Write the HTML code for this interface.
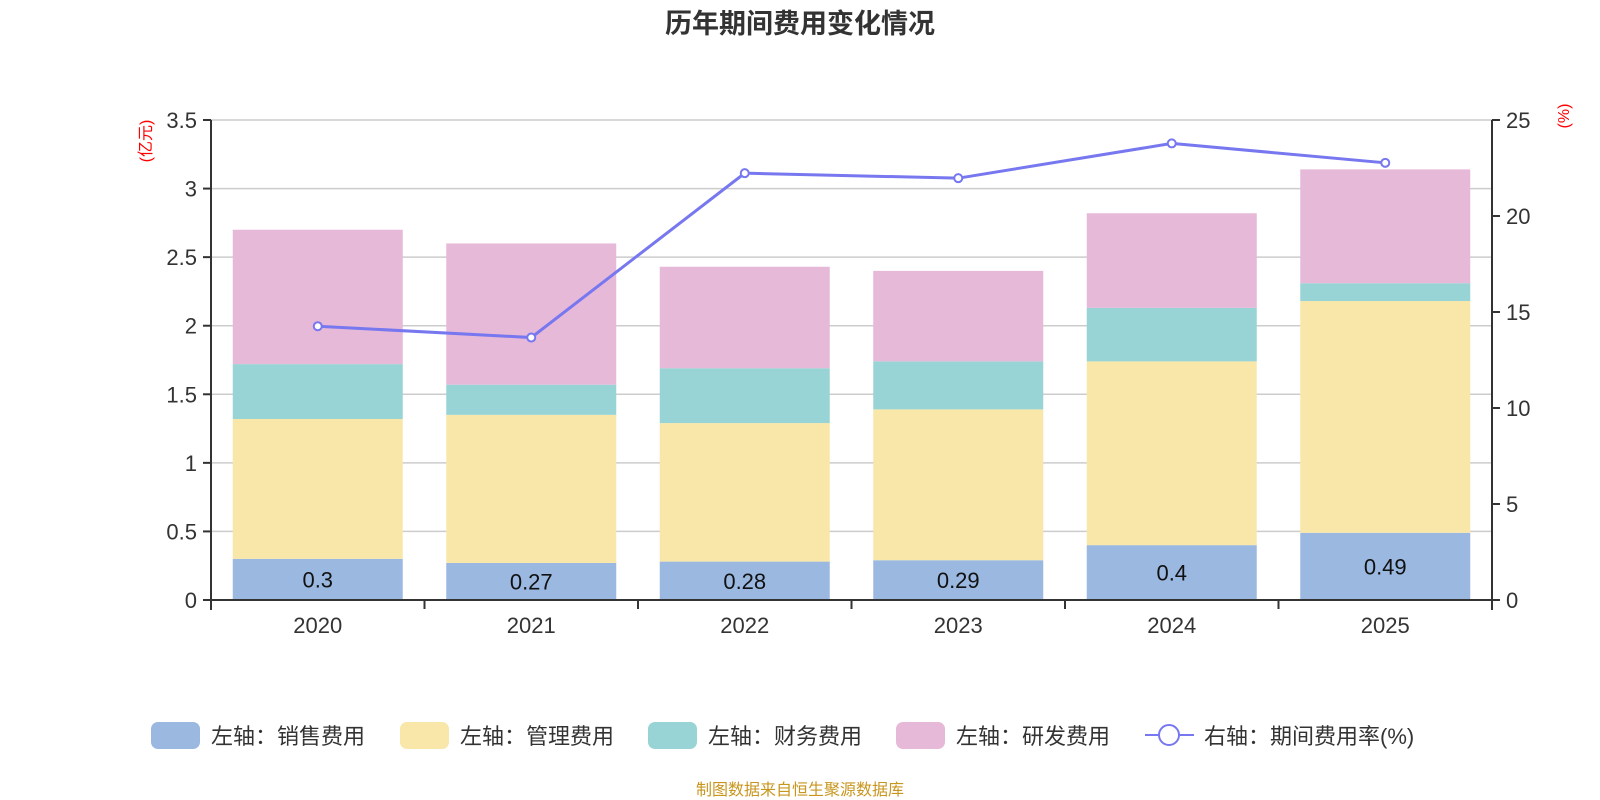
<!DOCTYPE html>
<html><head><meta charset="utf-8"><style>
html,body{margin:0;padding:0;background:#fff;}
svg{display:block;font-family:"Liberation Sans","Noto Sans CJK SC",sans-serif;}
</style></head><body>
<svg id="chart" width="1600" height="800" viewBox="0 0 1600 800">
<text x="800" y="33" text-anchor="middle" font-size="27" font-weight="bold" fill="#333">历年期间费用变化情况</text>
<g id="grid"></g><g id="bars"></g><g id="axes"></g><g id="line"></g><g id="legend"></g>
<text transform="translate(151,141) rotate(-90)" text-anchor="middle" font-size="16" fill="#f00">(亿元)</text>
<text transform="translate(1569,116) rotate(-90)" text-anchor="middle" font-size="16" fill="#f00">(%)</text>
<text x="800" y="795" text-anchor="middle" font-size="16" fill="#c8961e">制图数据来自恒生聚源数据库</text>
</svg>
<script>
const categories=["2020","2021","2022","2023","2024","2025"];
const sales=[0.3,0.27,0.28,0.29,0.4,0.49];
const mgmt=[1.02,1.08,1.01,1.10,1.34,1.69];
const fin=[0.40,0.22,0.40,0.35,0.39,0.13];
const rd=[0.98,1.03,0.74,0.66,0.69,0.83];
const rate=[14.26,13.67,22.23,21.97,23.78,22.77];
const leftTicks=["0","0.5","1","1.5","2","2.5","3","3.5"];
const rightTicks=["0","5","10","15","20","25"];
const NS="http://www.w3.org/2000/svg";
const X0=211,X1=1492,Y0=600,YT=120;
const yL=v=>Y0-(v/3.5)*(Y0-YT);
const yR=v=>Y0-(v/25)*(Y0-YT);
const bw=(X1-X0)/categories.length;
const xc=i=>X0+bw*(i+0.5);
function mk(tag,attrs,parent){const e=document.createElementNS(NS,tag);for(const k in attrs)e.setAttribute(k,attrs[k]);parent.appendChild(e);return e;}
const grid=document.getElementById('grid'),bars=document.getElementById('bars'),axes=document.getElementById('axes'),line=document.getElementById('line'),legend=document.getElementById('legend');
leftTicks.forEach(t=>{const y=yL(+t);
 const g=mk('line',{x1:X0,x2:X1,y1:y,y2:y,stroke:'#ccc','stroke-width':1.5},grid);
 
 
 mk('line',{x1:X0-8,x2:X0,y1:y,y2:y,stroke:'#333','stroke-width':2},axes);
 const tx=mk('text',{x:X0-14,y:y+8,'text-anchor':'end','font-size':22,fill:'#333'},axes);tx.textContent=t;
 
 
});
rightTicks.forEach(t=>{const y=yR(+t);
 mk('line',{x1:X1,x2:X1+8,y1:y,y2:y,stroke:'#333','stroke-width':2},axes);
 const tx=mk('text',{x:X1+14,y:y+8,'font-size':22,fill:'#333'},axes);tx.textContent=t;
 
 
});
mk('line',{x1:X0,x2:X0,y1:YT,y2:Y0+10,stroke:'#333','stroke-width':2},axes);
mk('line',{x1:X1,x2:X1,y1:YT,y2:Y0+10,stroke:'#333','stroke-width':2},axes);
mk('line',{x1:X0,x2:X1,y1:Y0,y2:Y0,stroke:'#333','stroke-width':2},axes);
const series=[[sales,'#9bb8e1','sales'],[mgmt,'#f8e7a9','mgmt'],[fin,'#98d4d5','finance'],[rd,'#e6b9d8','rd']];
categories.forEach((c,i)=>{
 mk('line',{x1:X0+bw*i,x2:X0+bw*i,y1:Y0,y2:Y0+9,stroke:'#333','stroke-width':2},axes);
 if(i==categories.length-1)mk('line',{x1:X1,x2:X1,y1:Y0,y2:Y0+9,stroke:'#333','stroke-width':2},axes);
 const lt=mk('text',{x:xc(i),y:Y0+33,'text-anchor':'middle','font-size':22,fill:'#333'},axes);lt.textContent=c;
 
 
 let acc=0;
 series.forEach(([arr,col,nm])=>{
  const r=mk('rect',{x:xc(i)-85,width:170,y:yL(acc+arr[i]),height:yL(acc)-yL(acc+arr[i]),fill:col},bars);
  
  
  acc+=arr[i];
 });
 const vl=mk('text',{x:xc(i),y:(yL(sales[i])+Y0)/2+8,'text-anchor':'middle','font-size':22,fill:'#111'},bars);vl.textContent=sales[i];
 
 
});
const pts=rate.map((v,i)=>xc(i)+','+yR(v)).join(' ');
const pl=mk('polyline',{points:pts,fill:'none',stroke:'#7777f0','stroke-width':3},line);


rate.forEach((v,i)=>{const c=mk('circle',{cx:xc(i),cy:yR(v),r:4,fill:'#fff',stroke:'#7777f0','stroke-width':2},line);
 
 });
const leg=[['#9bb8e1','左轴：销售费用',151],['#f8e7a9','左轴：管理费用',400],['#98d4d5','左轴：财务费用',648],['#e6b9d8','左轴：研发费用',896]];
leg.forEach(([col,txt,x])=>{
 const g=mk('g',{},legend);
 
 
 mk('rect',{x:x,y:722,width:49,height:27,rx:7,fill:col},g);
 const t=mk('text',{x:x+60,y:744,'font-size':22,fill:'#333'},g);t.textContent=txt;
});
const g5=mk('g',{},legend);


mk('line',{x1:1145,x2:1194,y1:735,y2:735,stroke:'#7777f0','stroke-width':2},g5);
mk('circle',{cx:1169,cy:735,r:10,fill:'#fff',stroke:'#7777f0','stroke-width':2},g5);
const t5=mk('text',{x:1204,y:744,'font-size':22,fill:'#333'},g5);t5.textContent='右轴：期间费用率(%)';
</script>
</body></html>
